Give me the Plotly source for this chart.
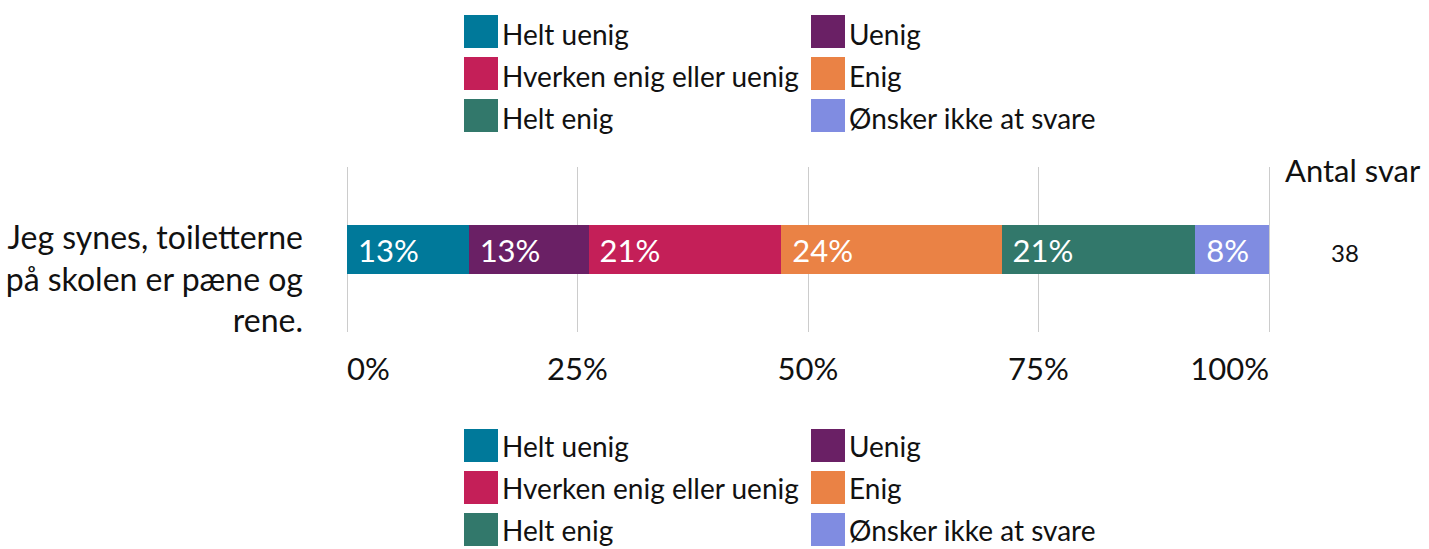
import plotly.graph_objects as go

# ---- data ----
question = ["Jeg synes, toiletterne<br>på skolen er pæne og<br>rene."]
categories = ["Helt uenig", "Uenig", "Hverken enig eller uenig", "Enig", "Helt enig", "Ønsker ikke at svare"]
shares = [13.2, 13.0, 20.9, 23.9, 21.0, 8.0]
colors = ["#00799A", "#6A2065", "#C41F58", "#EA8245", "#32786B", "#808CE1"]
n_answers = [38]
count_header = "Antal svar"
tick_vals = [0, 25, 50, 75, 100]
tick_text = ["0%", "25%", "50%", "75%", "100%"]

# ---- layout geometry (pixels) ----
W, H = 1429, 549
X0, X100 = 347, 1269          # pixel of 0% and 100%
EXT = 4                        # extra px each side so end gridlines show
ML, MR, MT, MB = X0 - EXT, W - X100 - EXT, 167, 217
PW, PH = W - ML - MR, H - MT - MB
UNIT = 100 / (X100 - X0)
XR = [-EXT * UNIT, 100 + EXT * UNIT]
FONT = "Lato"
TXT = "#111111"


def fx(px):
    return (px - ML) / PW


def fy(py):
    return (H - MB - py) / PH


fig = go.Figure()
for cat, val, col in zip(categories, shares, colors):
    fig.add_trace(go.Bar(
        y=question, x=[val], name=cat, orientation="h",
        marker=dict(color=col, line=dict(width=0)),
        texttemplate="\u00a0%{x:.0f}%", textposition="inside",
        insidetextanchor="start", textangle=0,
        insidetextfont=dict(family=FONT, size=31, color="white"),
        showlegend=False, hoverinfo="name+x",
    ))
# empty helper traces so the overlaid end-label axes are drawn
for ax in ("x2", "x3"):
    fig.add_trace(go.Scatter(x=[None], y=question, xaxis=ax, mode="markers",
                             showlegend=False, hoverinfo="skip"))

# ---- manual legends (top and bottom) ----
shapes, annotations = [], []
SW, SH = 34, 33
col_x = [464, 811]
for tops, tdy in (([15, 57, 99], 2), ([429, 471, 513], 0)):
    for i, (cat, col) in enumerate(zip(categories, colors)):
        r, c = divmod(i, 2)
        x0, y0 = col_x[c], tops[r]
        shapes.append(dict(type="rect", xref="paper", yref="paper",
                           x0=fx(x0), x1=fx(x0 + SW), y0=fy(y0 + SH), y1=fy(y0),
                           fillcolor=col, line=dict(width=0), layer="above"))
        annotations.append(dict(xref="paper", yref="paper", x=fx(x0 + SW + 3),
                                y=fy(y0 + SH / 2 + tdy), xanchor="left", yanchor="middle",
                                text=cat, showarrow=False, borderpad=0,
                                font=dict(family=FONT, size=28, color=TXT)))

annotations.append(dict(xref="paper", yref="paper", x=fx(1353), y=fy(170),
                        xanchor="center", yanchor="middle", text=count_header,
                        showarrow=False, font=dict(family=FONT, size=31, color=TXT)))
annotations.append(dict(xref="paper", yref="y", x=fx(1345), y=question[0], yshift=-3,
                        xanchor="center", yanchor="middle", text=str(n_answers[0]),
                        showarrow=False, font=dict(family=FONT, size=24, color=TXT)))

axis_common = dict(range=XR, tickvals=tick_vals, showline=False, zeroline=False,
                   ticks="", tickfont=dict(family=FONT, size=31, color=TXT),
                   ticklabelstandoff=16, fixedrange=True, automargin=False)

fig.update_layout(
    width=W, height=H,
    margin=dict(l=ML, r=MR, t=MT, b=MB, pad=0, autoexpand=False),
    barmode="stack", bargap=0.70,
    plot_bgcolor="white", paper_bgcolor="white",
    font=dict(family=FONT, color=TXT),
    xaxis=dict(**axis_common, ticktext=["", tick_text[1], tick_text[2], tick_text[3], ""],
               showgrid=True, gridcolor="#CCCCCC", gridwidth=1),
    xaxis2=dict(**axis_common, overlaying="x", anchor="y", side="bottom",
                ticktext=[tick_text[0], "", "", "", ""], showgrid=False,
                ticklabelposition="outside right"),
    xaxis3=dict(**axis_common, overlaying="x", anchor="y", side="bottom",
                ticktext=["", "", "", "", tick_text[4]], showgrid=False,
                ticklabelposition="outside left"),
    yaxis=dict(showgrid=False, zeroline=False, showline=False, ticks="",
               tickfont=dict(family=FONT, size=32, color=TXT), automargin=False,
               fixedrange=True, ticklabelstandoff=39, ticklabelshift=30),
    shapes=shapes, annotations=annotations,
)

fig.write_html("out.html", config={"displayModeBar": False},
               post_script="document.body.style.margin='0';document.body.style.overflow='hidden';")
